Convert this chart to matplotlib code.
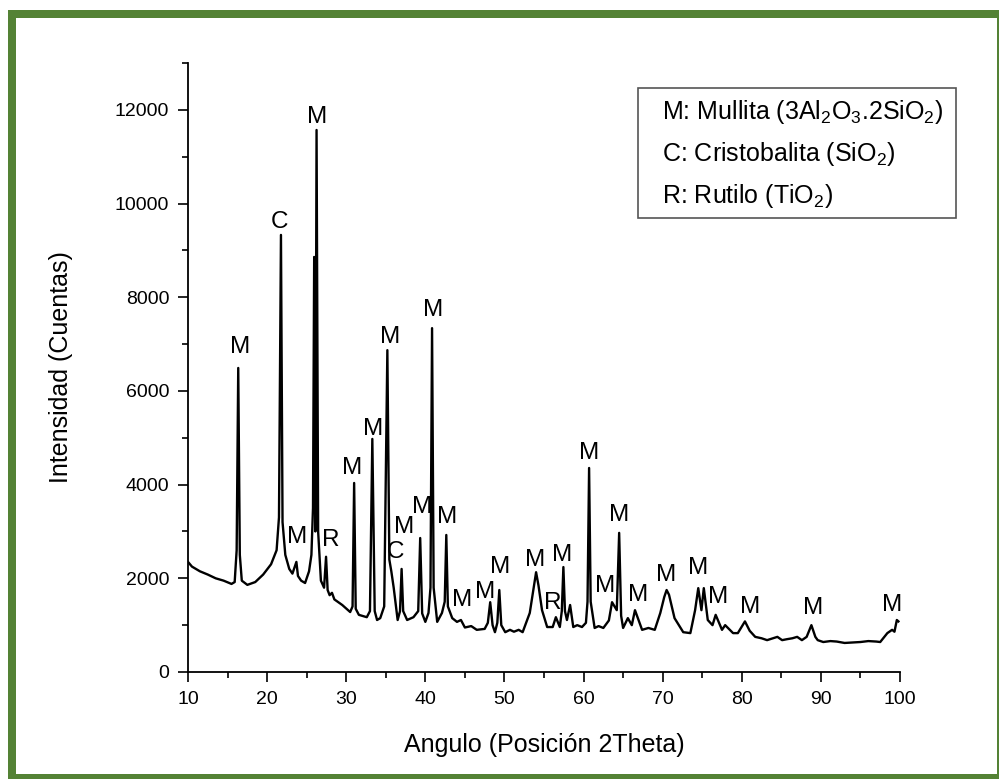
import matplotlib
matplotlib.use('Agg')
import matplotlib.pyplot as plt
from matplotlib.patches import Rectangle
from matplotlib.ticker import MultipleLocator

plt.rcParams['font.family'] = ['Liberation Sans', 'DejaVu Sans']
plt.rcParams['mathtext.fontset'] = 'custom'
plt.rcParams['mathtext.rm'] = 'Liberation Sans'
plt.rcParams['mathtext.it'] = 'Liberation Sans'

# --- Difractograma: vertices (angulo 2Theta, cuentas) ---
angulo = [10.0, 10.5, 11.5, 12.5, 13.5, 14.5, 15.5, 15.9, 16.15, 16.35, 16.55, 16.8,
          17.5, 18.5, 19.5, 20.5, 21.2, 21.5, 21.75, 21.95, 22.3, 22.8, 23.2, 23.5,
          23.7, 23.9, 24.3, 24.8, 25.3, 25.6, 25.8, 25.95, 26.1, 26.25, 26.45, 26.8,
          27.2, 27.45, 27.65, 27.9, 28.2, 28.5, 29.5, 30.5, 30.8, 31.0, 31.2, 31.6,
          32.6, 33.0, 33.3, 33.6, 33.9, 34.3, 34.8, 35.2, 35.45, 35.7, 36.0, 36.5,
          36.8, 37.0, 37.2, 37.7, 38.5, 39.1, 39.35, 39.6, 40.0, 40.4, 40.65, 40.85,
          41.05, 41.5, 42.1, 42.45, 42.65, 42.85, 43.4, 44.0, 44.5, 45.0, 45.8, 46.5,
          47.5, 47.9, 48.2, 48.5, 48.8, 49.1, 49.35, 49.6, 50.1, 50.7, 51.2, 51.8,
          52.3, 53.2, 53.7, 54.0, 54.3, 54.75, 55.4, 56.1, 56.5, 57.0, 57.25, 57.45,
          57.65, 57.9, 58.3, 58.7, 59.2, 59.8, 60.3, 60.5, 60.7, 60.9, 61.4, 61.9,
          62.5, 63.2, 63.6, 64.2, 64.5, 64.75, 65.0, 65.6, 66.1, 66.5, 67.4, 68.2,
          69.0, 69.7, 70.2, 70.5, 70.8, 71.5, 72.6, 73.5, 74.1, 74.5, 74.9, 75.2,
          75.7, 76.3, 76.7, 77.5, 77.9, 78.9, 79.5, 80.4, 81.0, 81.7, 82.5, 83.2,
          84.5, 85.1, 85.7, 86.4, 87.0, 87.6, 88.2, 88.8, 89.3, 89.6, 90.3, 91.2,
          92.0, 93.0, 94.0, 95.0, 96.0, 97.0, 97.5, 98.4, 99.0, 99.3, 99.6, 99.8]
cuentas = [2350, 2250, 2150, 2080, 2000, 1950, 1880, 1920, 2600, 6490, 2500, 1950,
           1860, 1920, 2080, 2300, 2600, 3300, 9330, 3200, 2500, 2200, 2100, 2250,
           2350, 2050, 1950, 1900, 2150, 2500, 3500, 8860, 3000, 11570, 3000, 1950,
           1800, 2460, 1750, 1640, 1690, 1550, 1430, 1280, 1400, 4035, 1350, 1220,
           1170, 1300, 4975, 1300, 1110, 1150, 1400, 6870, 2400, 2150, 1800, 1110,
           1300, 2200, 1300, 1110, 1170, 1300, 2860, 1250, 1070, 1260, 1800, 7340,
           1800, 1070, 1260, 1500, 2925, 1400, 1150, 1070, 1110, 950, 980, 900,
           920, 1050, 1490, 1000, 850, 1050, 1750, 1000, 850, 900, 860, 900,
           850, 1260, 1800, 2130, 1850, 1320, 960, 960, 1170, 960, 1300, 2240,
           1300, 1110, 1430, 960, 1000, 960, 1050, 1500, 4355, 1500, 940, 980,
           940, 1100, 1490, 1320, 2970, 1200, 940, 1150, 1000, 1320, 900, 940,
           900, 1260, 1600, 1750, 1650, 1150, 850, 830, 1320, 1790, 1320, 1790,
           1110, 1000, 1220, 900, 1000, 830, 830, 1080, 880, 750, 720, 680,
           750, 680, 700, 720, 750, 680, 750, 1000, 750, 680, 640, 660,
           650, 620, 630, 640, 660, 650, 640, 830, 900, 860, 1110, 1080]

# --- Identificacion de fases: letra, posicion del rotulo ---
fase_letra = ['M', 'C', 'M', 'M', 'R', 'M', 'M', 'M', 'C', 'M', 'M', 'M', 'M', 'M', 'M',
              'M', 'M', 'R', 'M', 'M', 'M', 'M', 'M', 'M', 'M', 'M', 'M', 'M', 'M']
fase_x = [16.6, 21.6, 26.3, 23.8, 28.1, 30.7, 33.4, 35.5, 36.2, 37.3, 39.6, 41.0, 42.7,
          44.6, 47.5, 49.4, 53.9, 56.1, 57.3, 60.7, 62.7, 64.5, 66.9, 70.5, 74.5,
          77.0, 81.0, 89.0, 99.0]
fase_y = [6940, 9610, 11850, 2880, 2820, 4355, 5190, 7150, 2560, 3100, 3520, 7730, 3310,
          1540, 1710, 2240, 2390, 1470, 2500, 4680, 1840, 3350, 1640, 2070, 2220,
          1600, 1390, 1370, 1430]

leyenda = [r'M: Mullita (3Al$_2$O$_3$.2SiO$_2$)',
           r'C: Cristobalita (SiO$_2$)',
           r'R: Rutilo (TiO$_2$)']

W, H = 999, 779
fig = plt.figure(figsize=(W / 100, H / 100), dpi=100)


def fx(px):
    return px / W


def fy(py):
    return 1 - py / H


# marco verde
verde = '#548235'
for x0, y0, x1, y1 in [(8, 10, 999, 18), (8, 10, 16, 779), (8, 774, 999, 779), (997, 10, 999, 779)]:
    fig.patches.append(Rectangle((fx(x0), fy(y1)), fx(x1) - fx(x0), fy(y0) - fy(y1),
                                 transform=fig.transFigure, color=verde, lw=0, zorder=0))

ax = fig.add_axes([fx(188), fy(672), fx(900) - fx(188), fy(63) - fy(672)])
ax.plot(angulo, cuentas, color='black', lw=1.7)

for letra, x, y in zip(fase_letra, fase_x, fase_y):
    ax.text(x, y, letra, ha='center', va='center', fontsize=17.5)

ax.set_xlim(10, 100)
ax.set_ylim(0, 13000)
ax.xaxis.set_major_locator(MultipleLocator(10))
ax.xaxis.set_minor_locator(MultipleLocator(5))
ax.yaxis.set_major_locator(MultipleLocator(2000))
ax.yaxis.set_minor_locator(MultipleLocator(1000))
ax.tick_params(which='major', direction='out', length=7.5, width=1.2, labelsize=14, pad=6)
ax.tick_params(which='minor', direction='out', length=4, width=1.2)
for lado in ['top', 'right']:
    ax.spines[lado].set_visible(False)
for lado in ['left', 'bottom']:
    ax.spines[lado].set_linewidth(1.3)

ax.set_xlabel('Angulo (Posición 2Theta)', fontsize=18)
ax.set_ylabel('Intensidad (Cuentas)', fontsize=18)
ax.xaxis.set_label_coords(0.5, -0.100)
ax.yaxis.set_label_coords(-0.161, 0.5)

# cuadro con las fases
fig.patches.append(Rectangle((fx(638), fy(218)), fx(956) - fx(638), fy(88) - fy(218),
                             transform=fig.transFigure, facecolor='white',
                             edgecolor='#555555', lw=1.2, zorder=3))
for i, texto in enumerate(leyenda):
    fig.text(fx(662), fy(112 + 42 * i), texto, ha='left', va='center', fontsize=18, zorder=4)

plt.savefig('out.png', dpi=100)
